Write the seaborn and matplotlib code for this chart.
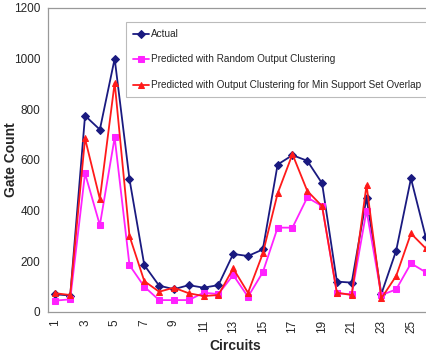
import matplotlib
matplotlib.use("Agg")
import matplotlib.pyplot as plt
import numpy as np
import pandas as pd
import seaborn as sns

# Data
circuits = list(range(1, 27))
actual = [70, 65, 775, 720, 1000, 524, 185, 104, 90, 106, 96, 106, 229,
          221, 247, 582, 619, 597, 508, 120, 116, 451, 71, 242, 527, 295]
random_clust = [45, 50, 547, 343, 689, 185, 100, 47, 47, 47, 76, 71, 146,
                60, 157, 333, 333, 452, 418, 74, 70, 400, 67, 89, 192, 157]
min_overlap = [74, 67, 685, 446, 905, 300, 122, 80, 96, 74, 63, 67, 172,
               76, 231, 468, 623, 478, 418, 76, 67, 501, 54, 142, 310, 251]

series_names = [
    "Actual",
    "Predicted with Random Output Clustering",
    "Predicted with Output Clustering for Min Support Set Overlap",
]

df = pd.DataFrame({
    "Circuit": circuits * 3,
    "Gate Count": actual + random_clust + min_overlap,
    "Series": np.repeat(series_names, len(circuits)),
})

sns.set_style("white")
plt.rcParams["font.family"] = ["Liberation Sans", "DejaVu Sans"]

fig = plt.figure(figsize=(4.27, 3.52), dpi=100)
ax = fig.add_axes([48 / 427, 40 / 352, 400 / 427, 304 / 352])

colors = ["#1a1a80", "#ff22ff", "#ff1a1a"]
markers = ["D", "s", "^"]
sizes = [4, 5, 5]

for name, col, mk, ms in zip(series_names, colors, markers, sizes):
    sub = df[df["Series"] == name]
    sns.lineplot(data=sub, x="Circuit", y="Gate Count", ax=ax, color=col,
                 marker=mk, markersize=ms, markeredgecolor=col,
                 linewidth=1.3, label=name)

ax.set_xlim(0.5, 27.5)
ax.set_ylim(0, 1200)
ax.set_yticks(range(0, 1201, 200))
ax.set_xticks(circuits[::2])
ax.set_xticklabels([str(c) for c in circuits[::2]], rotation=90, fontsize=8.5)
ax.tick_params(axis="y", labelsize=8.5, pad=2)
ax.tick_params(axis="x", pad=2)

for s in ax.spines.values():
    s.set_color("#999999")
    s.set_linewidth(0.9)

ax.set_ylabel("Gate Count", fontsize=10, fontweight="bold")
ax.yaxis.set_label_coords((18 - 48) / 400, 0.5)
ax.set_xlabel("Circuits", fontsize=10, fontweight="bold")
ax.xaxis.set_label_coords((235 - 48) / 400, -0.09)

leg = ax.legend(loc="upper left", bbox_to_anchor=(126 / 427, 1 - 22 / 352),
                bbox_transform=fig.transFigure, fontsize=7.2, frameon=True,
                fancybox=False, labelspacing=1.55, handlelength=1.6,
                borderpad=0.7, handletextpad=0.2, borderaxespad=0)
leg.get_frame().set_edgecolor("#aaaaaa")
leg.get_frame().set_linewidth(0.8)

fig.savefig("out.png", dpi=100)
